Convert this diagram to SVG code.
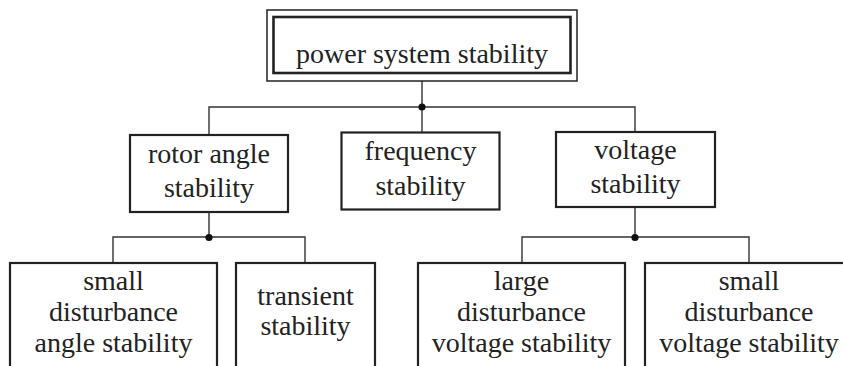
<svg xmlns="http://www.w3.org/2000/svg" width="843" height="366" viewBox="0 0 843 366">
<style>
.box{fill:#fff;stroke:#222;stroke-width:2.2}
.outer{fill:#fff;stroke:#222;stroke-width:1.5}
.inner{fill:none;stroke:#222;stroke-width:2.6}
.con{fill:none;stroke:#333;stroke-width:1.4}
.dot{fill:#111}
text{font-family:'Liberation Serif','Times New Roman',Times,'Noto Serif','DejaVu Serif',FreeSerif,serif;font-size:28px;fill:#222;text-anchor:middle}
</style>
<rect width="843" height="366" fill="#fff"/>
<g id="connectors">
<path class="con" d="M422,81V107M209,135V107H635V132M422,107V132"/>
<path class="con" d="M209,212V237M113,263V237H305V263"/>
<path class="con" d="M635,207V237M522,263V237H749V263"/>
<circle class="dot" cx="422" cy="107" r="3.6"/>
<circle class="dot" cx="209" cy="237.5" r="3.6"/>
<circle class="dot" cx="635" cy="237.5" r="3.6"/>
</g>
<g id="power-system-stability">
<rect class="outer" x="267" y="10" width="310" height="71"/>
<rect class="inner" x="273.5" y="17" width="297" height="56"/>
<text x="422" y="63">power system stability</text>
</g>
<g id="rotor-angle-stability">
<rect class="box" x="130" y="135" width="158" height="77"/>
<text x="209" y="163">rotor angle</text>
<text x="209" y="197">stability</text>
</g>
<g id="frequency-stability">
<rect class="box" x="341.5" y="132.5" width="158" height="77"/>
<text x="420.5" y="160">frequency</text>
<text x="420.5" y="195">stability</text>
</g>
<g id="voltage-stability">
<rect class="box" x="556" y="132" width="159" height="75"/>
<text x="635.5" y="159">voltage</text>
<text x="635.5" y="193">stability</text>
</g>
<g id="small-disturbance-angle-stability">
<rect class="box" x="10" y="263" width="207" height="120"/>
<text x="113.5" y="290">small</text>
<text x="113.5" y="321">disturbance</text>
<text x="113.5" y="352">angle stability</text>
</g>
<g id="transient-stability">
<rect class="box" x="236" y="263" width="139" height="120"/>
<text x="305.5" y="305">transient</text>
<text x="305.5" y="335">stability</text>
</g>
<g id="large-disturbance-voltage-stability">
<rect class="box" x="418" y="263" width="207" height="120"/>
<text x="521.5" y="290">large</text>
<text x="521.5" y="321">disturbance</text>
<text x="521.5" y="352">voltage stability</text>
</g>
<g id="small-disturbance-voltage-stability">
<rect class="box" x="645" y="263" width="208" height="120"/>
<text x="749" y="290">small</text>
<text x="749" y="321">disturbance</text>
<text x="749" y="352">voltage stability</text>
</g>
</svg>
